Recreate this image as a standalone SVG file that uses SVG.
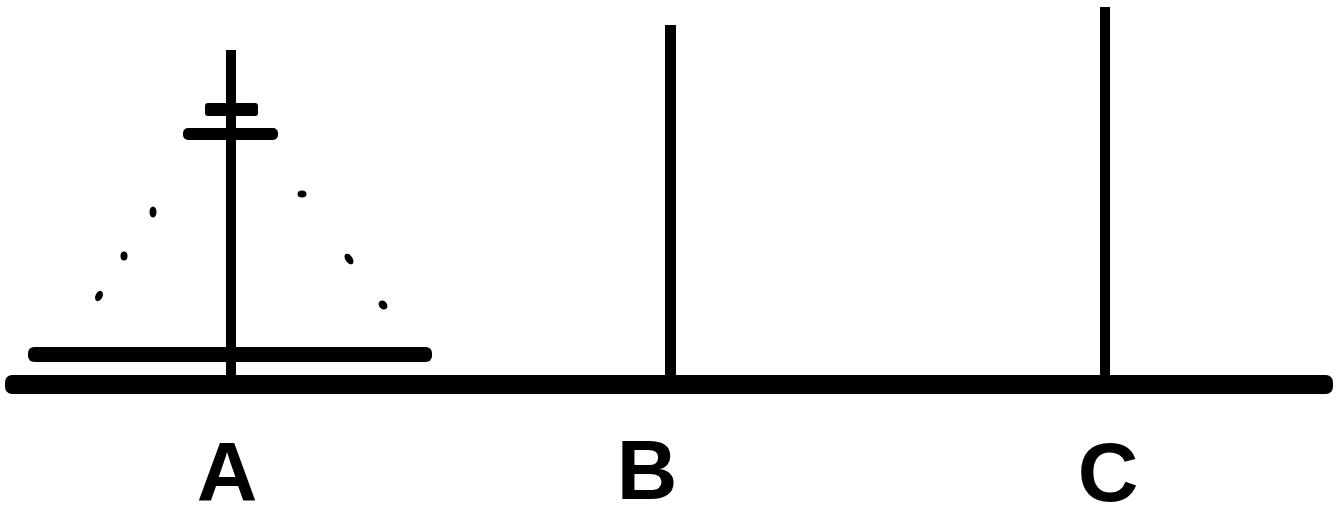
<svg xmlns="http://www.w3.org/2000/svg" width="1343" height="505" viewBox="0 0 1343 505">
<style>
.bar{fill:#000}
.dot{fill:#000}
.lbl{font-family:"Liberation Sans",Arial,sans-serif;font-weight:bold;font-size:84px;fill:#000;text-anchor:middle}
</style>
<rect width="1343" height="505" fill="#fff"/>
<g id="base"><rect class="bar" x="5" y="375" width="1328" height="19" rx="7"/></g>
<g id="peg-A"><rect class="bar" x="226" y="50" width="10" height="328"/></g>
<g id="peg-B"><rect class="bar" x="665" y="25" width="11" height="353"/></g>
<g id="peg-C"><rect class="bar" x="1100" y="7" width="10" height="371"/></g>
<g id="disk-1"><rect class="bar" x="205" y="103" width="53" height="13" rx="3"/></g>
<g id="disk-2"><rect class="bar" x="183" y="128" width="95" height="12" rx="5"/></g>
<g id="disk-n"><rect class="bar" x="28" y="347" width="404" height="15" rx="6"/></g>
<g id="dots">
<ellipse class="dot" cx="153" cy="212" rx="3.5" ry="5.5"/>
<ellipse class="dot" cx="124" cy="256" rx="3.5" ry="4.5"/>
<ellipse class="dot" cx="99" cy="296" rx="3.5" ry="5.5" transform="rotate(25 99 296)"/>
<ellipse class="dot" cx="302" cy="194" rx="4.5" ry="3.5"/>
<ellipse class="dot" cx="349" cy="259" rx="3.5" ry="6" transform="rotate(-35 349 259)"/>
<ellipse class="dot" cx="383" cy="305" rx="4" ry="5" transform="rotate(-40 383 305)"/>
</g>
<g id="labels">
<text class="lbl" x="227" y="501">A</text>
<text class="lbl" x="647" y="499">B</text>
<text class="lbl" x="1108" y="501">C</text>
</g>
</svg>
